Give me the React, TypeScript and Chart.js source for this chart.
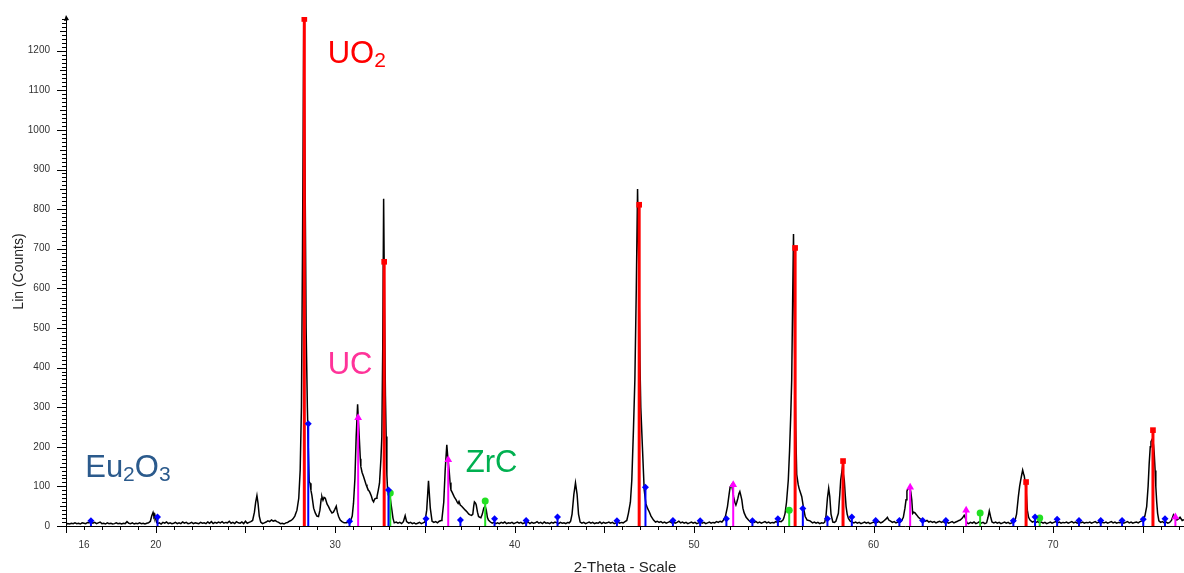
import React, { useEffect, useRef } from 'react';
import { Chart, registerables } from 'chart.js';

Chart.register(...registerables);

const FONT = '"Liberation Sans", Arial, Helvetica, sans-serif';

const X_MIN = 15;
const X_MAX = 77.3;
const Y_MIN = 0;
const Y_MAX = 1285;

const xTickLabels = [16, 20, 30, 40, 50, 60, 70];
const yTickLabels = [0, 100, 200, 300, 400, 500, 600, 700, 800, 900, 1000, 1100, 1200];

// measured diffractogram (2-theta, counts)
const tracePoints: [number, number][] = [
  [15.0, 4], [15.1, 6], [15.2, 5], [15.3, 7], [15.4, 6], [15.5, 8], [15.6, 6], [15.7, 7], [15.8, 5], [15.9, 8],
  [16.0, 7], [16.1, 6], [16.2, 9], [16.3, 8], [16.4, 10], [16.5, 7], [16.6, 9], [16.7, 6], [16.8, 8], [16.9, 10],
  [17.0, 6], [17.1, 7], [17.2, 5], [17.3, 8], [17.4, 6], [17.5, 7], [17.6, 5], [17.7, 6], [17.8, 8], [17.9, 6],
  [18.0, 7], [18.1, 5], [18.2, 7], [18.3, 6], [18.4, 11], [18.5, 7], [18.6, 6], [18.7, 8], [18.8, 5], [18.9, 7],
  [19.0, 6], [19.1, 8], [19.2, 6], [19.3, 7], [19.4, 5], [19.5, 7], [19.6, 8], [19.7, 12], [19.78, 26], [19.85, 34],
  [19.9, 24], [19.95, 28], [20.0, 18], [20.05, 9], [20.1, 6], [20.2, 8], [20.3, 5], [20.4, 9], [20.5, 7], [20.6, 10],
  [20.7, 6], [20.8, 8], [20.9, 6], [21.0, 7], [21.1, 9], [21.2, 6], [21.3, 8], [21.4, 6], [21.5, 10], [21.6, 7],
  [21.7, 9], [21.8, 6], [21.9, 7], [22.0, 9], [22.1, 6], [22.2, 8], [22.3, 7], [22.4, 6], [22.5, 9], [22.6, 7],
  [22.7, 8], [22.8, 6], [22.9, 10], [23.0, 7], [23.1, 11], [23.2, 6], [23.3, 9], [23.4, 7], [23.5, 10], [23.6, 8],
  [23.7, 11], [23.8, 7], [23.9, 9], [24.0, 8], [24.1, 12], [24.2, 7], [24.3, 9], [24.4, 6], [24.5, 11], [24.6, 8],
  [24.7, 7], [24.8, 10], [24.9, 6], [25.0, 12], [25.1, 7], [25.2, 9], [25.3, 11], [25.4, 14], [25.5, 35], [25.57, 60],
  [25.64, 77], [25.7, 58], [25.77, 25], [25.85, 10], [25.95, 6], [26.05, 8], [26.15, 10], [26.25, 13], [26.35, 11], [26.45, 15],
  [26.55, 12], [26.65, 14], [26.75, 11], [26.85, 9], [26.95, 6], [27.05, 7], [27.15, 5], [27.25, 8], [27.35, 9], [27.45, 12],
  [27.55, 14], [27.65, 18], [27.75, 25], [27.87, 40], [27.97, 70], [28.05, 141], [28.12, 300], [28.18, 700], [28.25, 1285], [28.32, 900],
  [28.38, 500], [28.45, 300], [28.5, 200], [28.55, 112], [28.6, 108], [28.65, 90], [28.7, 78], [28.8, 45], [28.89, 33], [28.98, 25],
  [29.07, 24], [29.15, 40], [29.22, 68], [29.26, 74], [29.32, 65], [29.38, 72], [29.45, 70], [29.55, 55], [29.63, 49], [29.72, 40],
  [29.82, 33], [29.9, 35], [29.98, 42], [30.06, 50], [30.12, 35], [30.19, 24], [30.28, 15], [30.38, 11], [30.5, 8], [30.65, 8],
  [30.75, 12], [30.84, 11], [30.95, 25], [31.02, 57], [31.1, 120], [31.17, 226], [31.25, 307], [31.3, 260], [31.34, 226], [31.4, 170],
  [31.43, 150], [31.5, 135], [31.58, 125], [31.65, 115], [31.72, 105], [31.77, 99], [31.85, 90], [31.9, 88], [31.95, 83], [32.02, 75],
  [32.08, 65], [32.14, 61], [32.2, 68], [32.28, 70], [32.33, 74], [32.4, 90], [32.47, 108], [32.55, 170], [32.6, 226], [32.65, 450],
  [32.7, 826], [32.75, 550], [32.8, 330], [32.84, 226], [32.88, 130], [32.92, 91], [32.98, 85], [33.03, 83], [33.1, 60], [33.16, 40],
  [33.22, 20], [33.29, 8], [33.4, 10], [33.5, 7], [33.6, 9], [33.7, 6], [33.8, 11], [33.9, 26], [33.98, 11], [34.1, 7],
  [34.2, 9], [34.3, 6], [34.4, 8], [34.5, 5], [34.6, 7], [34.7, 9], [34.8, 6], [34.9, 8], [35.0, 10], [35.1, 40],
  [35.2, 114], [35.3, 45], [35.4, 12], [35.5, 9], [35.6, 11], [35.7, 8], [35.8, 12], [35.9, 14], [35.95, 18], [36.05, 60],
  [36.13, 141], [36.22, 205], [36.28, 170], [36.35, 141], [36.4, 110], [36.45, 91], [36.52, 85], [36.59, 78], [36.65, 72], [36.74, 66],
  [36.8, 60], [36.85, 57], [36.9, 62], [36.97, 53], [37.05, 50], [37.15, 45], [37.25, 40], [37.34, 36], [37.45, 30], [37.52, 28],
  [37.6, 27], [37.67, 30], [37.72, 50], [37.76, 61], [37.82, 58], [37.86, 53], [37.93, 35], [37.99, 24], [38.06, 22], [38.12, 21],
  [38.2, 30], [38.28, 45], [38.36, 50], [38.42, 40], [38.48, 22], [38.54, 15], [38.65, 10], [38.75, 7], [38.85, 9], [38.95, 6],
  [39.05, 8], [39.15, 6], [39.25, 9], [39.35, 7], [39.45, 10], [39.55, 6], [39.65, 8], [39.75, 7], [39.85, 9], [39.95, 6],
  [40.05, 8], [40.15, 10], [40.25, 7], [40.35, 9], [40.45, 6], [40.55, 8], [40.65, 7], [40.75, 10], [40.85, 6], [40.95, 9],
  [41.05, 7], [41.15, 8], [41.25, 11], [41.35, 7], [41.45, 9], [41.55, 6], [41.65, 10], [41.75, 7], [41.85, 8], [41.95, 6],
  [42.05, 9], [42.15, 7], [42.25, 10], [42.35, 8], [42.45, 6], [42.55, 9], [42.65, 7], [42.75, 8], [42.85, 6], [42.95, 9],
  [43.05, 8], [43.12, 12], [43.2, 30], [43.3, 80], [43.39, 109], [43.48, 80], [43.56, 30], [43.65, 10], [43.75, 7], [43.85, 9],
  [43.95, 6], [44.05, 8], [44.15, 10], [44.25, 7], [44.35, 9], [44.45, 6], [44.55, 8], [44.65, 7], [44.75, 10], [44.85, 6],
  [44.95, 9], [45.05, 7], [45.15, 8], [45.25, 10], [45.35, 7], [45.45, 9], [45.55, 6], [45.65, 8], [45.75, 10], [45.85, 7],
  [45.95, 9], [46.05, 8], [46.15, 11], [46.25, 14], [46.34, 32], [46.45, 60], [46.53, 116], [46.62, 242], [46.7, 369], [46.78, 600],
  [46.85, 851], [46.92, 650], [46.98, 420], [47.03, 300], [47.12, 200], [47.22, 91], [47.31, 57], [47.4, 45], [47.5, 36], [47.6, 25],
  [47.74, 15], [47.85, 10], [47.95, 12], [48.05, 9], [48.15, 11], [48.25, 8], [48.35, 10], [48.45, 7], [48.55, 9], [48.65, 11],
  [48.75, 8], [48.85, 10], [48.95, 7], [49.05, 9], [49.15, 12], [49.25, 8], [49.35, 10], [49.45, 7], [49.55, 9], [49.65, 6],
  [49.75, 8], [49.85, 10], [49.95, 7], [50.05, 9], [50.15, 6], [50.25, 8], [50.35, 11], [50.45, 7], [50.55, 9], [50.65, 6],
  [50.75, 8], [50.85, 10], [50.95, 7], [51.05, 9], [51.15, 8], [51.25, 11], [51.35, 9], [51.45, 12], [51.55, 10], [51.64, 15],
  [51.75, 25], [51.86, 49], [51.95, 80], [52.01, 99], [52.09, 104], [52.15, 90], [52.2, 74], [52.27, 60], [52.33, 53], [52.38, 60],
  [52.44, 70], [52.5, 82], [52.55, 87], [52.6, 78], [52.66, 66], [52.72, 45], [52.79, 33], [52.9, 22], [53.03, 15], [53.15, 10],
  [53.25, 12], [53.35, 9], [53.45, 11], [53.55, 8], [53.65, 10], [53.75, 7], [53.85, 9], [53.95, 11], [54.05, 8], [54.15, 10],
  [54.25, 7], [54.35, 9], [54.45, 8], [54.55, 11], [54.65, 9], [54.75, 12], [54.85, 11], [54.95, 15], [55.0, 20], [55.07, 32],
  [55.15, 60], [55.25, 116], [55.32, 190], [55.39, 285], [55.44, 369], [55.49, 560], [55.54, 737], [55.6, 450], [55.66, 250], [55.72, 130],
  [55.8, 105], [55.85, 95], [55.92, 85], [56.0, 74], [56.1, 45], [56.19, 24], [56.3, 15], [56.46, 13], [56.6, 8], [56.7, 10],
  [56.8, 7], [56.9, 9], [57.0, 6], [57.1, 8], [57.2, 7], [57.28, 10], [57.35, 25], [57.43, 70], [57.5, 95], [57.56, 75],
  [57.63, 30], [57.73, 10], [57.82, 9], [57.9, 12], [58.04, 32], [58.12, 80], [58.17, 116], [58.26, 146], [58.32, 130], [58.37, 116],
  [58.42, 80], [58.47, 49], [58.53, 30], [58.6, 19], [58.7, 12], [58.8, 10], [58.9, 8], [59.0, 10], [59.1, 7], [59.2, 9],
  [59.3, 6], [59.4, 8], [59.5, 10], [59.6, 7], [59.7, 9], [59.8, 6], [59.9, 8], [60.0, 10], [60.1, 7], [60.2, 9],
  [60.3, 11], [60.4, 8], [60.5, 10], [60.6, 14], [60.7, 18], [60.77, 22], [60.85, 15], [60.95, 12], [61.05, 9], [61.15, 11],
  [61.25, 8], [61.35, 10], [61.45, 9], [61.55, 12], [61.66, 22], [61.75, 45], [61.81, 66], [61.86, 88], [61.9, 93], [61.97, 95],
  [62.03, 96], [62.08, 85], [62.13, 66], [62.18, 32], [62.24, 35], [62.31, 33], [62.4, 28], [62.5, 22], [62.6, 18], [62.78, 15],
  [62.88, 12], [62.98, 14], [63.08, 10], [63.18, 12], [63.28, 9], [63.38, 11], [63.48, 8], [63.58, 10], [63.68, 12], [63.78, 9],
  [63.88, 11], [63.98, 8], [64.08, 10], [64.18, 7], [64.28, 9], [64.38, 11], [64.48, 8], [64.58, 10], [64.68, 12], [64.76, 14],
  [64.83, 15], [64.95, 20], [65.05, 27], [65.12, 20], [65.2, 8], [65.3, 6], [65.4, 9], [65.5, 7], [65.6, 10], [65.7, 6],
  [65.8, 8], [65.9, 11], [66.0, 7], [66.1, 9], [66.2, 6], [66.3, 8], [66.38, 22], [66.45, 38], [66.52, 24], [66.6, 10],
  [66.7, 8], [66.8, 10], [66.9, 7], [67.0, 9], [67.1, 6], [67.2, 8], [67.3, 10], [67.4, 7], [67.5, 9], [67.6, 6],
  [67.7, 8], [67.8, 10], [67.87, 12], [67.97, 30], [68.07, 74], [68.14, 100], [68.2, 116], [68.26, 130], [68.31, 141], [68.36, 132],
  [68.4, 126], [68.45, 110], [68.5, 91], [68.57, 40], [68.64, 22], [68.72, 15], [68.85, 10], [68.95, 12], [69.05, 9], [69.15, 11],
  [69.25, 8], [69.35, 10], [69.45, 7], [69.55, 9], [69.65, 6], [69.75, 8], [69.85, 10], [69.95, 7], [70.05, 9], [70.15, 11],
  [70.25, 8], [70.35, 10], [70.45, 7], [70.55, 9], [70.65, 8], [70.75, 10], [70.85, 7], [70.95, 9], [71.05, 11], [71.15, 8],
  [71.25, 10], [71.35, 7], [71.45, 9], [71.55, 8], [71.65, 10], [71.75, 7], [71.85, 9], [71.95, 8], [72.05, 10], [72.15, 7],
  [72.25, 9], [72.35, 11], [72.45, 8], [72.55, 10], [72.65, 7], [72.75, 9], [72.85, 8], [72.95, 10], [73.05, 7], [73.15, 9],
  [73.25, 11], [73.35, 8], [73.45, 10], [73.55, 7], [73.65, 9], [73.75, 8], [73.85, 10], [73.95, 7], [74.05, 9], [74.15, 11],
  [74.25, 8], [74.35, 10], [74.45, 7], [74.55, 9], [74.65, 10], [74.75, 8], [74.85, 11], [74.95, 13], [75.03, 15], [75.12, 25],
  [75.22, 49], [75.3, 100], [75.36, 158], [75.42, 200], [75.46, 213], [75.55, 221], [75.6, 205], [75.64, 184], [75.69, 140], [75.73, 99],
  [75.78, 60], [75.83, 32], [75.9, 13], [76.0, 9], [76.1, 11], [76.2, 8], [76.3, 10], [76.4, 7], [76.5, 9], [76.6, 14],
  [76.71, 28], [76.8, 20], [76.9, 15], [77.0, 18], [77.08, 22], [77.2, 14], [77.3, 16],
];

// reference stick patterns (position, relative height in counts)
const uo2Positions = [28.28, 32.73, 46.94, 55.63, 58.3, 68.5, 75.57];
const uo2Heights = [1280, 667, 811, 702, 164, 111, 242];

const ucPositions = [31.28, 36.3, 52.18, 62.04, 65.16, 76.82];
const ucHeights = [273, 167, 104, 98, 40, 23];

const zrcPositions = [33.07, 38.36, 55.3, 65.94, 69.26];
const zrcHeights = [83, 63, 40, 33, 20];

const eu2o3Positions = [
  16.39, 20.1, 28.5, 30.8, 32.97, 35.06, 36.98, 38.88, 40.64, 42.39, 45.7, 47.29, 48.82, 50.34, 51.8, 53.25,
  54.67, 56.06, 57.43, 58.79, 60.12, 61.44, 62.74, 64.03, 67.79, 69.0, 70.23, 71.45, 72.66, 73.85, 75.03, 76.24,
];
const eu2o3Heights = [
  13, 23, 258, 12, 91, 18, 15, 18, 14, 23, 13, 98, 14, 13, 18, 13,
  18, 44, 18, 23, 14, 14, 14, 14, 13, 23, 17, 14, 14, 14, 17, 18,
];

// phase annotations: text pieces [text, isSubscript], anchored in data units
const phaseLabels = [
  { parts: [['UO', false], ['2', true]], x: 29.58, y: 1169, color: '#ff0000' },
  { parts: [['UC', false]], x: 29.58, y: 383, color: '#ff3399' },
  { parts: [['ZrC', false]], x: 37.28, y: 136, color: '#00b050' },
  { parts: [['Eu', false], ['2', true], ['O', false], ['3', true]], x: 16.07, y: 124, color: '#2b5a8c' },
] as { parts: [string, boolean][]; x: number; y: number; color: string }[];

function stickData(pos: number[], h: number[]) {
  const out: { x: number; y: number | null }[] = [];
  pos.forEach((x, i) => {
    out.push({ x, y: 0 }, { x, y: h[i] }, { x, y: null });
  });
  return out;
}

function stickDataset(label: string, pos: number[], h: number[], color: string, width: number, style: string, radius: number) {
  return {
    label,
    type: 'line' as const,
    data: stickData(pos, h),
    borderColor: color,
    backgroundColor: color,
    borderWidth: width,
    pointStyle: style,
    pointRadius: (c: any) => (c.dataIndex % 3 === 1 ? radius : 0),
    pointBorderWidth: 0,
    pointBackgroundColor: color,
    spanGaps: false,
    tension: 0,
  };
}

const decorPlugin = {
  id: 'decor',
  afterDraw(chart: any) {
    const ctx = chart.ctx as CanvasRenderingContext2D;
    const xs = chart.scales.x;
    const ys = chart.scales.y;
    ctx.save();
    ctx.strokeStyle = '#000';
    ctx.lineWidth = 1;
    ctx.beginPath();
    for (let v = Math.ceil(X_MIN); v <= Math.floor(X_MAX); v += 1) {
      const px = Math.round(xs.getPixelForValue(v)) + 0.5;
      const len = v % 5 === 0 ? 7 : 4;
      ctx.moveTo(px, xs.top);
      ctx.lineTo(px, xs.top + len);
    }
    for (let v = 0; v <= 1280; v += 10) {
      const py = Math.round(ys.getPixelForValue(v)) + 0.5;
      const len = v % 100 === 0 ? 9 : v % 50 === 0 ? 6 : 4;
      ctx.moveTo(ys.right, py);
      ctx.lineTo(ys.right - len, py);
    }
    ctx.stroke();
    // arrow head at top of y axis
    const ax = ys.right;
    const ay = chart.chartArea.top;
    ctx.fillStyle = '#000';
    ctx.beginPath();
    ctx.moveTo(ax, ay - 2);
    ctx.lineTo(ax - 2, ay + 4);
    ctx.lineTo(ax + 3, ay + 3);
    ctx.closePath();
    ctx.fill();

    // phase labels
    ctx.textBaseline = 'alphabetic';
    ctx.textAlign = 'left';
    phaseLabels.forEach((lab) => {
      let cx = xs.getPixelForValue(lab.x);
      const by = ys.getPixelForValue(lab.y);
      ctx.fillStyle = lab.color;
      lab.parts.forEach(([t, sub]) => {
        ctx.font = sub ? `21px ${FONT}` : `31px ${FONT}`;
        ctx.fillText(t, cx, sub ? by + 4 : by);
        cx += ctx.measureText(t).width;
      });
    });
    ctx.restore();
  },
};

export default function App() {
  const ref = useRef<HTMLCanvasElement>(null);
  useEffect(() => {
    if (!ref.current) return;
    const chart = new Chart(ref.current, {
      type: 'line',
      data: {
        datasets: [
          stickDataset('Eu2O3', eu2o3Positions, eu2o3Heights, '#0000ff', 2, 'rectRot', 3.5),
          stickDataset('ZrC', zrcPositions, zrcHeights, '#22e022', 2, 'circle', 3.5),
          stickDataset('UC', ucPositions, ucHeights, '#ff00ff', 2, 'triangle', 4.5),
          stickDataset('UO2', uo2Positions, uo2Heights, '#ff0000', 3, 'rect', 4),
          {
            label: 'pattern',
            type: 'line' as const,
            data: tracePoints.map(([x, y]) => ({ x, y })),
            borderColor: '#000000',
            borderWidth: 1.5,
            pointRadius: 0,
            tension: 0,
          },
        ] as any,
      },
      options: {
        animation: false,
        responsive: false,
        devicePixelRatio: 1,
        parsing: true,
        layout: { padding: { top: 17, left: 0, right: 0, bottom: 0 }, autoPadding: false },
        plugins: { legend: { display: false }, tooltip: { enabled: false } },
        scales: {
          x: {
            type: 'linear',
            position: 'bottom',
            min: X_MIN,
            max: X_MAX,
            afterFit: (s: any) => { s.height = 47; },
            afterBuildTicks: (s: any) => { s.ticks = xTickLabels.map((v) => ({ value: v })); },
            ticks: {
              autoSkip: false,
              maxRotation: 0,
              padding: 3,
              color: '#333333',
              font: { family: FONT, size: 10 },
              callback: (v: any) => String(v),
            },
            grid: { display: true, drawOnChartArea: false, drawTicks: true, tickLength: 10, tickColor: 'rgba(0,0,0,0)' },
            border: { display: true, color: '#000000', width: 1 },
            title: {
              display: true,
              text: '2-Theta - Scale',
              color: '#222222',
              font: { family: FONT, size: 15 },
              padding: { top: 0, bottom: -4 },
            },
          },
          y: {
            type: 'linear',
            min: Y_MIN,
            max: Y_MAX,
            afterFit: (s: any) => { s.width = 66; },
            afterBuildTicks: (s: any) => { s.ticks = yTickLabels.map((v) => ({ value: v })); },
            ticks: {
              autoSkip: false,
              padding: 3,
              color: '#333333',
              font: { family: FONT, size: 10 },
              callback: (v: any) => String(v),
            },
            grid: { display: true, drawOnChartArea: false, drawTicks: true, tickLength: 13, tickColor: 'rgba(0,0,0,0)' },
            border: { display: true, color: '#000000', width: 1 },
            title: {
              display: true,
              text: 'Lin (Counts)',
              color: '#222222',
              font: { family: FONT, size: 14 },
              padding: { top: 11, bottom: 0 },
            },
          },
        },
      } as any,
      plugins: [decorPlugin],
    });
    return () => chart.destroy();
  }, []);
  return (
    <div style={{ position: 'absolute', left: 0, top: 0, width: 1184, height: 573, background: '#fff' }}>
      <canvas ref={ref} width={1184} height={573} style={{ display: 'block' }} />
    </div>
  );
}
